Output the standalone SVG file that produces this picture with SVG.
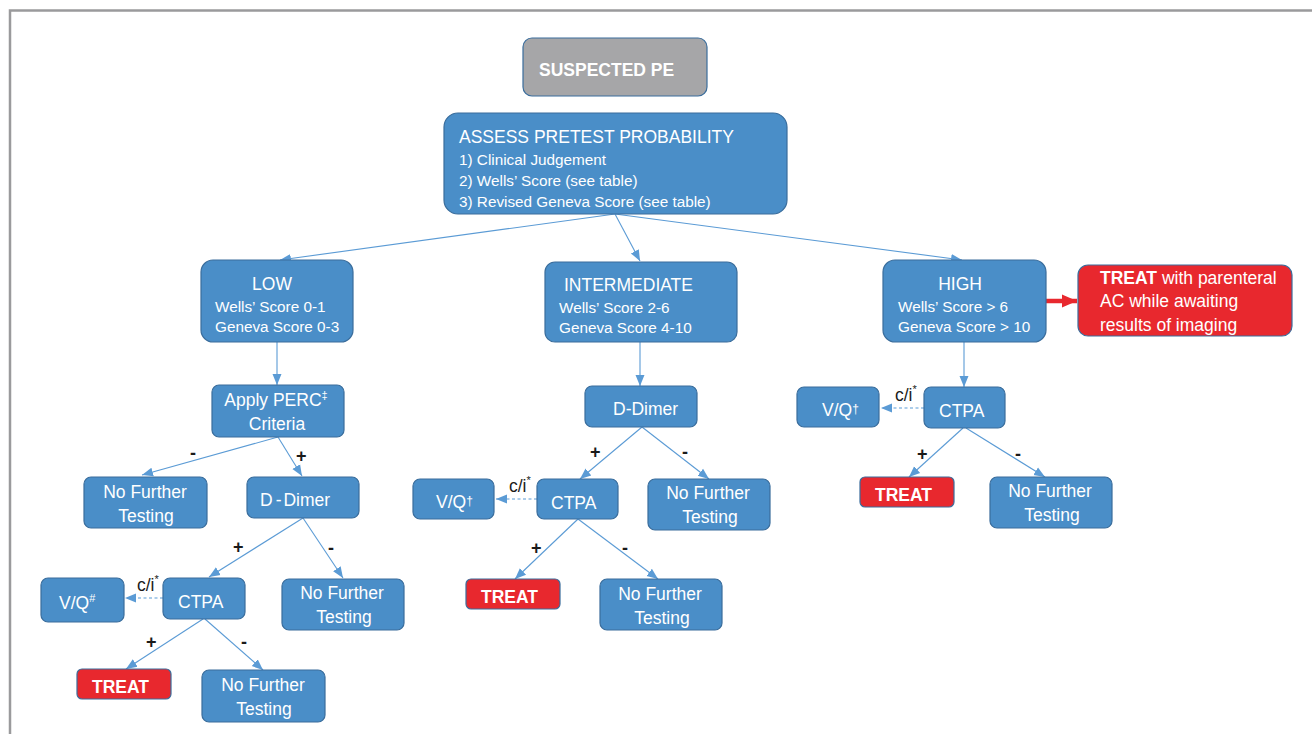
<svg xmlns="http://www.w3.org/2000/svg" width="1312" height="734" viewBox="0 0 1312 734">
  <style>
    .box { fill: #4a8ec8; stroke: #3a6d9c; stroke-width: 1.2; }
    .grey { fill: #a6a6a8; stroke: #3a6d9c; stroke-width: 1.2; }
    .red { fill: #e8282e; stroke: #3a6d9c; stroke-width: 1.2; }
    text { font-family: "Liberation Sans", Arial, Helvetica, sans-serif; fill: #ffffff; }
    .t { font-size: 17.5px; }
    .s { font-size: 15.3px; }
    .b { font-weight: bold; }
    .mid { text-anchor: middle; }
    .lbl { fill: #1a1a1a; font-size: 18px; font-weight: bold; }
    .ci { fill: #1a1a1a; font-size: 17.5px; }
    .link { stroke: #5b9bd5; stroke-width: 1.1; fill: none; marker-end: url(#arrow); }
    .dash { stroke-dasharray: 3 2.5; }
  </style>
  <defs>
    <marker id="arrow" markerUnits="userSpaceOnUse" markerWidth="12" markerHeight="12" viewBox="0 0 12 12" refX="11" refY="6" orient="auto">
      <path d="M0,1.5 L11,6 L0,10.5 Z" fill="#5b9bd5"/>
    </marker>
    <marker id="redArrow" markerUnits="userSpaceOnUse" markerWidth="16" markerHeight="16" viewBox="0 0 16 16" refX="15" refY="8" orient="auto">
      <path d="M0,1.5 L15,8 L0,14.5 Z" fill="#e8282e"/>
    </marker>
  </defs>

  <!-- outer frame -->
  <path d="M10,734 L10,10.5 L1312,10.5" fill="none" stroke="#9a9a9c" stroke-width="2.5"/>

  <!-- connectors -->
  <g id="connectors">
    <line class="link" x1="615" y1="214" x2="280" y2="260"/>
    <line class="link" x1="615" y1="214" x2="640" y2="261"/>
    <line class="link" x1="615" y1="214" x2="962" y2="260"/>
    <line x1="1046" y1="301" x2="1077" y2="301" stroke="#e8282e" stroke-width="4.5" marker-end="url(#redArrow)"/>

    <!-- low branch -->
    <line class="link" x1="277" y1="342" x2="277" y2="385"/>
    <line class="link" x1="278" y1="437" x2="142" y2="475"/>
    <line class="link" x1="278" y1="437" x2="302" y2="476"/>
    <line class="link" x1="303" y1="518" x2="209" y2="577"/>
    <line class="link" x1="303" y1="518" x2="343" y2="578"/>
    <line class="link dash" x1="163" y1="598" x2="125" y2="598"/>
    <line class="link" x1="203" y1="619" x2="126" y2="669"/>
    <line class="link" x1="205" y1="619" x2="263" y2="670"/>

    <!-- intermediate branch -->
    <line class="link" x1="640" y1="342" x2="640" y2="386"/>
    <line class="link" x1="642" y1="427" x2="580" y2="479"/>
    <line class="link" x1="642" y1="427" x2="709" y2="479"/>
    <line class="link dash" x1="537" y1="499" x2="496" y2="499"/>
    <line class="link" x1="578" y1="519" x2="515" y2="579"/>
    <line class="link" x1="578" y1="519" x2="658" y2="579"/>

    <!-- high branch -->
    <line class="link" x1="964" y1="342" x2="964" y2="387"/>
    <line class="link dash" x1="924" y1="408" x2="881" y2="408"/>
    <line class="link" x1="963" y1="428" x2="909" y2="477"/>
    <line class="link" x1="966" y1="428" x2="1045" y2="477"/>

    <!-- branch labels -->
    <text class="lbl" x="190" y="459">-</text>
    <text class="lbl" x="296" y="462">+</text>
    <text class="lbl" x="233" y="553">+</text>
    <text class="lbl" x="328" y="554">-</text>
    <text class="lbl" x="146" y="648">+</text>
    <text class="lbl" x="241" y="648">-</text>
    <text class="ci" x="137" y="591">c/i<tspan font-size="11" dy="-8">*</tspan></text>

    <text class="lbl" x="590" y="458">+</text>
    <text class="lbl" x="682" y="458">-</text>
    <text class="lbl" x="531" y="554">+</text>
    <text class="lbl" x="622" y="554">-</text>
    <text class="ci" x="509" y="492">c/i<tspan font-size="11" dy="-8">*</tspan></text>

    <text class="lbl" x="917" y="460">+</text>
    <text class="lbl" x="1015" y="460">-</text>
    <text class="ci" x="895" y="401">c/i<tspan font-size="11" dy="-8">*</tspan></text>
  </g>

  <!-- nodes -->
  <g id="suspected-pe">
    <rect class="grey" x="523" y="38" width="184" height="58" rx="9"/>
    <text class="t b" x="539" y="76">SUSPECTED PE</text>
  </g>

  <g id="assess">
    <rect class="box" x="444" y="113" width="343" height="101" rx="14"/>
    <text class="t" x="459" y="143">ASSESS PRETEST PROBABILITY</text>
    <text class="s" x="459" y="165">1) Clinical Judgement</text>
    <text class="s" x="459" y="186">2) Wells’ Score (see table)</text>
    <text class="s" x="459" y="207">3) Revised Geneva Score (see table)</text>
  </g>

  <g id="low">
    <rect class="box" x="201" y="260" width="152" height="82" rx="12"/>
    <text class="t mid" x="272" y="290">LOW</text>
    <text class="s" x="215" y="312">Wells’ Score 0-1</text>
    <text class="s" x="215" y="332">Geneva Score 0-3</text>
  </g>

  <g id="intermediate">
    <rect class="box" x="545" y="262" width="192" height="80" rx="10"/>
    <text class="t" x="564" y="291">INTERMEDIATE</text>
    <text class="s" x="559" y="313">Wells’ Score 2-6</text>
    <text class="s" x="559" y="333">Geneva Score 4-10</text>
  </g>

  <g id="high">
    <rect class="box" x="883" y="260" width="163" height="82" rx="12"/>
    <text class="t mid" x="960" y="290">HIGH</text>
    <text class="s" x="898" y="312">Wells’ Score &gt; 6</text>
    <text class="s" x="898" y="332">Geneva Score &gt; 10</text>
  </g>

  <g id="treat-parenteral">
    <rect class="red" x="1078" y="265" width="214" height="71" rx="10"/>
    <text class="t" x="1100" y="284"><tspan font-weight="bold">TREAT</tspan> with parenteral</text>
    <text class="t" x="1100" y="307">AC while awaiting</text>
    <text class="t" x="1100" y="331">results of imaging</text>
  </g>

  <!-- low branch nodes -->
  <g id="perc">
    <rect class="box" x="212" y="385" width="132" height="52" rx="7"/>
    <text class="t mid" x="276" y="406">Apply PERC<tspan font-size="11" dy="-7">‡</tspan></text>
    <text class="t mid" x="277" y="430">Criteria</text>
  </g>

  <g id="low-no-further">
    <rect class="box" x="84" y="477" width="123" height="51" rx="7"/>
    <text class="t mid" x="145" y="498">No Further</text>
    <text class="t mid" x="146" y="522">Testing</text>
  </g>

  <g id="low-ddimer">
    <rect class="box" x="247" y="477" width="112" height="41" rx="7"/>
    <text class="t" x="260" y="506">D<tspan dx="3">-</tspan><tspan dx="2">Dimer</tspan></text>
  </g>

  <g id="low-ctpa">
    <rect class="box" x="163" y="578" width="82" height="41" rx="7"/>
    <text class="t" x="178" y="608">CTPA</text>
  </g>

  <g id="low-vq">
    <rect class="box" x="41" y="578" width="83" height="44" rx="7"/>
    <text class="t" x="59" y="609">V/Q<tspan font-size="11" dy="-7">#</tspan></text>
  </g>

  <g id="low-ddimer-no-further">
    <rect class="box" x="282" y="579" width="122" height="51" rx="7"/>
    <text class="t mid" x="342" y="599">No Further</text>
    <text class="t mid" x="344" y="623">Testing</text>
  </g>

  <g id="low-treat">
    <rect class="red" x="77" y="669" width="94" height="30" rx="5"/>
    <text class="t b" x="92" y="693">TREAT</text>
  </g>

  <g id="low-ctpa-no-further">
    <rect class="box" x="202" y="670" width="123" height="52" rx="7"/>
    <text class="t mid" x="263" y="691">No Further</text>
    <text class="t mid" x="264" y="715">Testing</text>
  </g>

  <!-- intermediate branch nodes -->
  <g id="mid-ddimer">
    <rect class="box" x="585" y="386" width="112" height="41" rx="7"/>
    <text class="t" x="613" y="415">D-Dimer</text>
  </g>

  <g id="mid-ctpa">
    <rect class="box" x="537" y="479" width="81" height="40" rx="7"/>
    <text class="t" x="551" y="509">CTPA</text>
  </g>

  <g id="mid-vq">
    <rect class="box" x="413" y="479" width="81" height="40" rx="7"/>
    <text class="t" x="436" y="508">V/Q<tspan font-size="12" dy="-3">†</tspan></text>
  </g>

  <g id="mid-ddimer-no-further">
    <rect class="box" x="648" y="479" width="122" height="51" rx="7"/>
    <text class="t mid" x="708" y="499">No Further</text>
    <text class="t mid" x="710" y="523">Testing</text>
  </g>

  <g id="mid-treat">
    <rect class="red" x="466" y="579" width="94" height="30" rx="5"/>
    <text class="t b" x="481" y="603">TREAT</text>
  </g>

  <g id="mid-ctpa-no-further">
    <rect class="box" x="600" y="579" width="122" height="51" rx="7"/>
    <text class="t mid" x="660" y="600">No Further</text>
    <text class="t mid" x="662" y="624">Testing</text>
  </g>

  <!-- high branch nodes -->
  <g id="high-ctpa">
    <rect class="box" x="924" y="387" width="81" height="41" rx="7"/>
    <text class="t" x="939" y="417">CTPA</text>
  </g>

  <g id="high-vq">
    <rect class="box" x="797" y="387" width="82" height="40" rx="7"/>
    <text class="t" x="822" y="416">V/Q<tspan font-size="12" dy="-3">†</tspan></text>
  </g>

  <g id="high-treat">
    <rect class="red" x="860" y="477" width="94" height="30" rx="5"/>
    <text class="t b" x="875" y="501">TREAT</text>
  </g>

  <g id="high-ctpa-no-further">
    <rect class="box" x="990" y="477" width="122" height="51" rx="7"/>
    <text class="t mid" x="1050" y="497">No Further</text>
    <text class="t mid" x="1052" y="521">Testing</text>
  </g>
</svg>
